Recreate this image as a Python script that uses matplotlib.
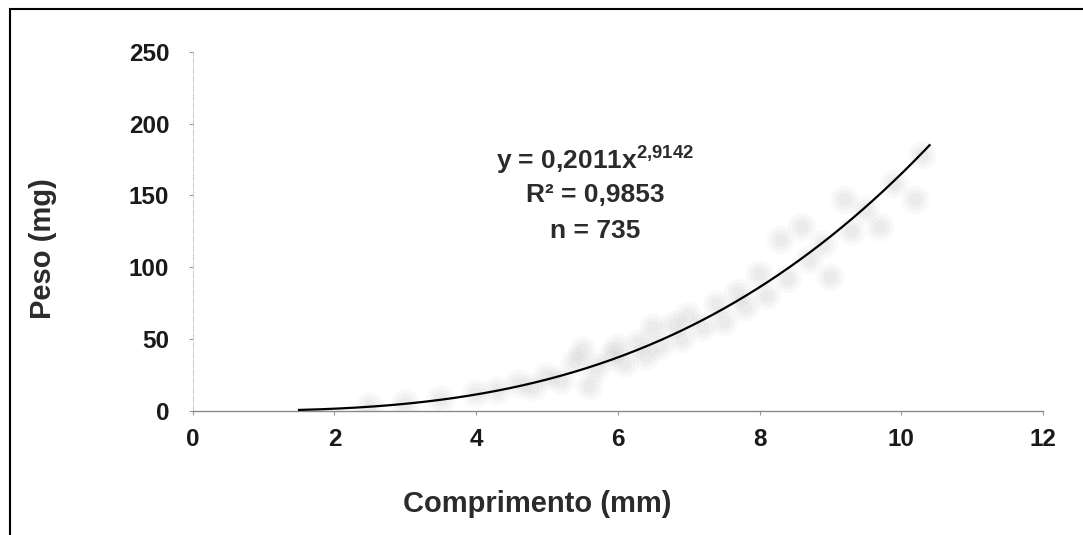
import matplotlib
matplotlib.use('Agg')
import matplotlib.pyplot as plt
import numpy as np
from matplotlib.patches import Rectangle

plt.rcParams['font.family'] = ['Liberation Sans', 'DejaVu Sans']
plt.rcParams['mathtext.fontset'] = 'custom'
plt.rcParams['mathtext.rm'] = 'Liberation Sans:bold'
plt.rcParams['mathtext.it'] = 'Liberation Sans:bold'
plt.rcParams['mathtext.bf'] = 'Liberation Sans:bold'

# power fit: peso = a * comprimento ** b
fit_a = 0.2011
fit_b = 2.9142
fit_r2 = 0.9853
n_obs = 735
x_min_fit = 1.5
x_max_fit = 10.4

# observed points (comprimento mm, peso mg)
comp_mm = [2.5, 3.0, 3.5, 4.0, 4.3, 4.6, 4.8, 5.0, 5.2, 5.4, 5.5, 5.6, 5.7, 5.9,
           6.0, 6.1, 6.3, 6.4, 6.5, 6.6, 6.8, 6.9, 7.0, 7.2, 7.4, 7.5, 7.7, 7.8,
           8.0, 8.1, 8.3, 8.4, 8.6, 8.7, 8.9, 9.0, 9.2, 9.3, 9.5, 9.7, 9.9,
           10.2, 10.3]
peso_mg = [3, 5, 8, 12, 14, 19, 16, 24, 21, 34, 42, 17, 30, 38,
           44, 33, 47, 38, 58, 45, 60, 50, 66, 58, 74, 62, 82, 72,
           95, 80, 119, 92, 128, 105, 116, 93, 147, 125, 140, 128, 158,
           147, 178]

x_ticks = [0, 2, 4, 6, 8, 10, 12]
y_ticks = [0, 50, 100, 150, 200, 250]

fig = plt.figure(figsize=(10.83, 5.35), dpi=100)
ax = fig.add_axes([0.178, 0.232, 0.785, 0.671])

# faint cloud of observations, layered so it reads as a soft haze
for size, alpha in [(420, 0.05), (220, 0.07), (90, 0.08)]:
    ax.scatter(comp_mm, peso_mg, s=size, color='#9c9c9c', alpha=alpha,
               edgecolors='none', zorder=1)

xs = np.linspace(x_min_fit, x_max_fit, 300)
ax.plot(xs, fit_a * xs ** fit_b, color='black', lw=1.6, zorder=3)

ax.set_xlim(0, 12)
ax.set_ylim(0, 250)
ax.set_xticks(x_ticks)
ax.set_yticks(y_ticks)
ax.tick_params(axis='both', labelsize=17.5, length=3, width=0.8,
               colors='#999999', labelcolor='#1a1a1a')
ax.tick_params(axis='x', pad=9)
ax.tick_params(axis='y', pad=14)
for lab in ax.get_xticklabels() + ax.get_yticklabels():
    lab.set_fontweight('bold')

for side in ['top', 'right']:
    ax.spines[side].set_visible(False)
ax.spines['left'].set_color('#cfcfcf')
ax.spines['left'].set_linestyle((0, (6, 2)))
ax.spines['bottom'].set_color('#8a8a8a')
ax.spines['bottom'].set_linewidth(1.0)

r2_txt = str(fit_r2).replace('.', ',')
ax.text(5.68, 174, 'y = 0,2011x$^{2{,}9142}$', ha='center', va='center',
        fontsize=19, fontweight='bold', color='#2b2b2b')
ax.text(5.68, 150.5, 'R² = ' + r2_txt, ha='center', va='center',
        fontsize=19, fontweight='bold', color='#2b2b2b')
ax.text(5.68, 125.5, 'n = %d' % n_obs, ha='center', va='center',
        fontsize=19, fontweight='bold', color='#2b2b2b')

fig.text(0.496, 0.058, 'Comprimento (mm)', ha='center', va='center',
         fontsize=21, fontweight='bold', color='#2b2b2b')
fig.text(0.040, 0.535, 'Peso (mg)', ha='center', va='center', rotation=90,
         fontsize=21, fontweight='bold', color='#2b2b2b')

# outer frame around the chart
fig.patches.append(Rectangle((10 / 1083, -0.05), 1.0, 1.05 - 9 / 535,
                             transform=fig.transFigure, fill=False,
                             edgecolor='black', lw=1.5))

fig.savefig('out.png', dpi=100)
